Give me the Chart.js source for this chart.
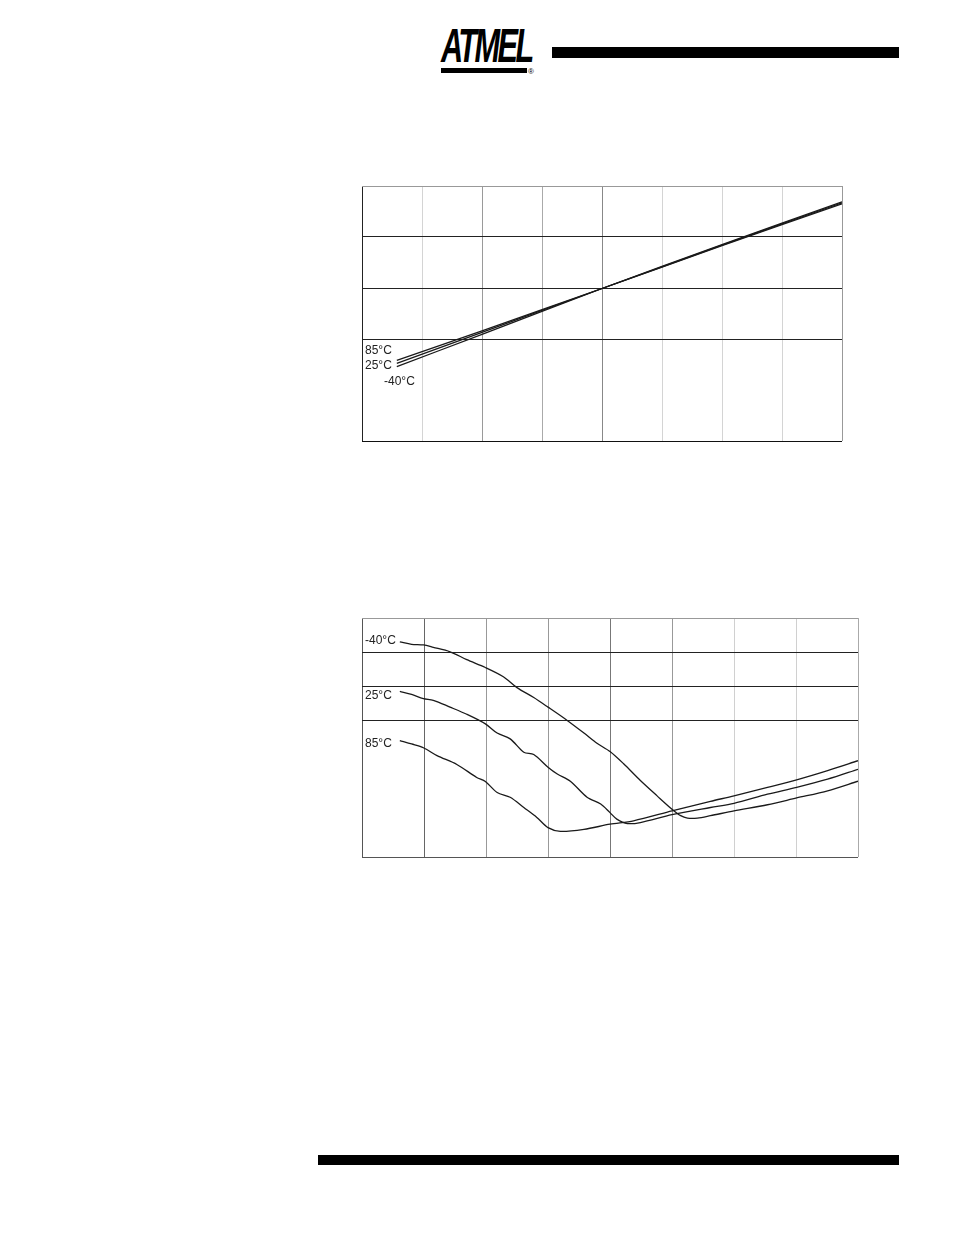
<!DOCTYPE html>
<html>
<head>
<meta charset="utf-8">
<script src="https://cdn.jsdelivr.net/npm/chart.js@4/dist/chart.umd.min.js"></script>
<style>
    html, body { margin: 0; padding: 0; background: #fff; }
    body { width: 954px; height: 1235px; position: relative; font-family: "Liberation Sans", Arial, sans-serif; }
    .box { position: absolute; }
    .lbl { position: absolute; font-size: 12px; color: #222; line-height: 12px; white-space: nowrap; }
    .logo { position: absolute; left: 441px; top: 22px; font: italic 900 48px/48px "Liberation Sans", sans-serif; letter-spacing: -4px; color: #000; transform: scaleX(0.64); transform-origin: left top; }
    .logo-bar { position: absolute; left: 441px; top: 68px; width: 86px; height: 5px; background: #000; }
    .reg { position: absolute; left: 528px; top: 67px; font-size: 8px; color: #000; }
    .bar { position: absolute; background: #000; }
</style>
</head>
<body>
<div class="logo">ATMEL</div>
<div class="logo-bar"></div>
<div class="reg">®</div>
<div class="bar" style="left:552px; top:47px; width:347px; height:11px;"></div>
<div class="bar" style="left:318px; top:1155px; width:581px; height:10px;"></div>

<div class="box" style="left:361px; top:185px; width:482px; height:257px;"><canvas id="chart-top"></canvas></div>
<div class="box" style="left:361px; top:617px; width:498px; height:241px;"><canvas id="chart-bottom"></canvas></div>

<div class="lbl" style="left:365px; top:344px;">85°C</div>
<div class="lbl" style="left:365px; top:359px;">25°C</div>
<div class="lbl" style="left:384px; top:375px;">-40°C</div>

<div class="lbl" style="left:365px; top:634px;">-40°C</div>
<div class="lbl" style="left:365px; top:689px;">25°C</div>
<div class="lbl" style="left:365px; top:737px;">85°C</div>

<script>
// top chart: three nearly straight lines
var topX = [0.58, 2, 4, 6, 8];
var topMinus40 = [1.46, 2.09, 2.99, 3.85, 4.69];
var top25 = [1.52, 2.13, 2.99, 3.84, 4.67];
var top85 = [1.58, 2.16, 2.99, 3.83, 4.65];
var topXGrid = ['#222', '#d4d4d4', '#9a9a9a', '#aaa', '#888', '#d4d4d4', '#d4d4d4', '#d4d4d4', '#999'];
var topYGrid = ['#111', 'rgba(0,0,0,0)', '#222', '#222', '#222', '#999'];

// bottom chart: curves with a minimum
var botXMinus40 = [0.61, 0.80, 0.99, 1.15, 1.42, 1.69, 1.99, 2.28, 2.50, 2.77, 3.00, 3.31, 3.58, 3.79, 4.00, 4.22, 4.49, 4.76, 5.00, 5.14, 5.25, 5.41, 5.62, 6.00, 6.54, 7.01, 7.51, 8.00];
var botMinus40 = [6.30, 6.23, 6.21, 6.14, 6.01, 5.78, 5.55, 5.28, 4.96, 4.67, 4.39, 4.00, 3.63, 3.33, 3.09, 2.73, 2.24, 1.79, 1.40, 1.21, 1.14, 1.14, 1.21, 1.35, 1.53, 1.73, 1.94, 2.22];
var botX25 = [0.61, 0.80, 0.99, 1.15, 1.42, 1.69, 1.99, 2.18, 2.39, 2.61, 2.77, 3.00, 3.15, 3.36, 3.63, 3.85, 4.00, 4.11, 4.28, 4.49, 5.00, 5.62, 6.00, 6.54, 7.01, 7.51, 8.00];
var bot25 = [4.85, 4.76, 4.64, 4.59, 4.39, 4.18, 3.90, 3.63, 3.46, 3.07, 3.00, 2.63, 2.43, 2.22, 1.75, 1.55, 1.30, 1.11, 0.98, 1.01, 1.24, 1.45, 1.57, 1.84, 2.04, 2.28, 2.57];
var botX85 = [0.61, 0.80, 0.99, 1.21, 1.53, 1.85, 1.99, 2.18, 2.39, 2.61, 2.82, 3.00, 3.20, 3.58, 4.00, 4.38, 5.00, 5.62, 6.00, 6.54, 7.01, 7.51, 8.00];
var bot85 = [3.41, 3.31, 3.20, 2.97, 2.71, 2.33, 2.21, 1.89, 1.75, 1.45, 1.16, 0.86, 0.75, 0.81, 0.96, 1.06, 1.35, 1.63, 1.79, 2.04, 2.26, 2.53, 2.82];
var botXGrid = ['#555', '#666', '#999', '#999', '#777', '#999', '#d0d0d0', '#d0d0d0', '#aaa'];
var botYGrid = ['#555', 'rgba(0,0,0,0)', 'rgba(0,0,0,0)', 'rgba(0,0,0,0)', '#222', '#222', '#222', '#999'];

(function() {
    'use strict';

    /**
     * builds {x, y} points from two arrays
     */
    function toPoints(xs, ys) {
        return xs.map(function(x, i) {
            return { x: x, y: ys[i] };
        });
    }

    function lineSet(xs, ys, tension) {
        return {
            data: toPoints(xs, ys),
            borderColor: '#1a1a1a',
            borderWidth: 1.3,
            pointRadius: 0,
            fill: false,
            tension: tension
        };
    }

    function gridScale(max, colors, steps) {
        return {
            type: 'linear',
            min: 0,
            max: max,
            ticks: { display: false, stepSize: steps },
            grid: {
                drawTicks: false,
                lineWidth: 1,
                color: function(ctx) {
                    return colors[ctx.index] || 'rgba(0,0,0,0)';
                }
            },
            border: { display: false }
        };
    }

    function baseOptions(xMax, xColors, yMax, yColors) {
        return {
            responsive: true,
            maintainAspectRatio: false,
            animation: false,
            layout: { padding: 1 },
            plugins: {
                legend: { display: false },
                tooltip: { enabled: false }
            },
            scales: {
                x: gridScale(xMax, xColors, 1),
                y: gridScale(yMax, yColors, 1)
            }
        };
    }

    /**
     * top chart
     */
    function initTopChart() {
        var ctx = document.getElementById('chart-top');
        if (!ctx) return;

        new Chart(ctx, {
            type: 'line',
            data: {
                datasets: [
                    lineSet(topX, top85, 0.2),
                    lineSet(topX, top25, 0.2),
                    lineSet(topX, topMinus40, 0.2)
                ]
            },
            options: baseOptions(8, topXGrid, 5, topYGrid)
        });
    }

    /**
     * bottom chart
     */
    function initBottomChart() {
        var ctx = document.getElementById('chart-bottom');
        if (!ctx) return;

        new Chart(ctx, {
            type: 'line',
            data: {
                datasets: [
                    lineSet(botXMinus40, botMinus40, 0.3),
                    lineSet(botX25, bot25, 0.3),
                    lineSet(botX85, bot85, 0.3)
                ]
            },
            options: baseOptions(8, botXGrid, 7, botYGrid)
        });
    }

    initTopChart();
    initBottomChart();
})();
</script>
</body>
</html>
